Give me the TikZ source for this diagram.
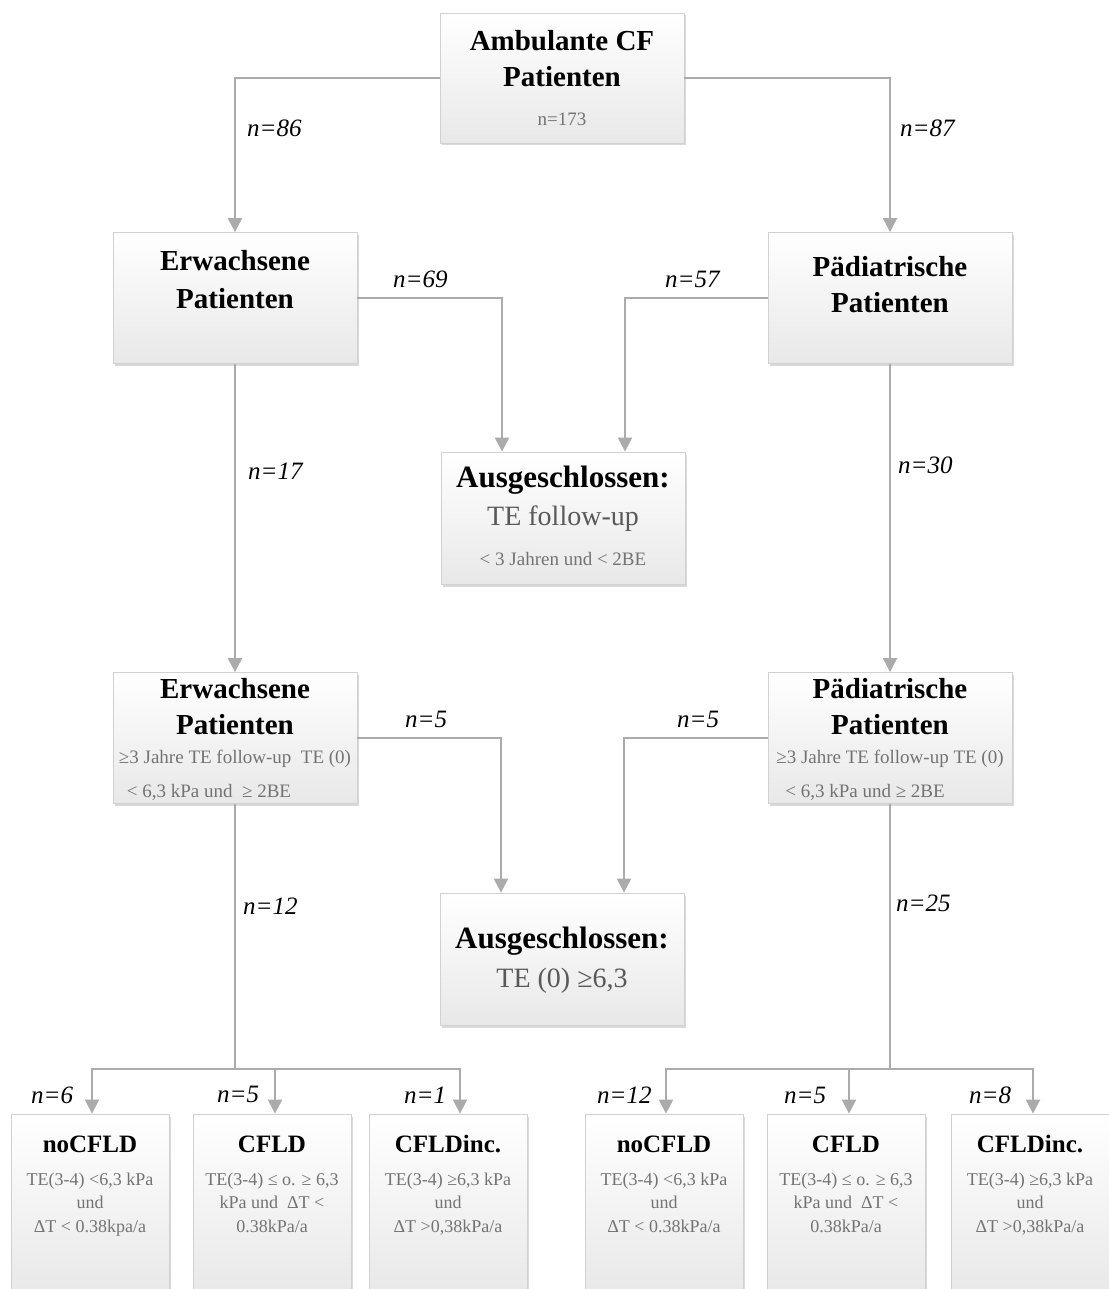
\documentclass[tikz,border=0pt]{standalone}
\usepackage{fontspec}
\setmainfont{Liberation Serif}
\usepackage{tikz}
\usetikzlibrary{arrows.meta,shadows}
\newcommand{\plainspaces}{\spaceskip=0pt\xspaceskip=0pt\relax}
\newcommand{\boxtitle}{\fontsize{29}{36}\selectfont\bfseries\plainspaces}
\newcommand{\boxsub}{\fontsize{19}{23}\selectfont\mdseries\color{black!55}\plainspaces}
\newcommand{\boxmid}{\fontsize{28}{34}\selectfont\mdseries\color{black!65}\plainspaces}
\newcommand{\leaftitle}{\fontsize{25}{23.5}\selectfont\bfseries\plainspaces}
\newcommand{\leafsub}{\fontsize{18}{23.5}\selectfont\mdseries\color{black!55}\plainspaces}
\tikzset{
  flowbox/.style={draw=black!18, line width=0.8pt, top color=white, bottom color=black!9,
    drop shadow={shadow xshift=2pt, shadow yshift=-2.5pt, opacity=0.3},
    inner sep=0pt, align=flush center, text width=244pt, font=\boxtitle,
    execute at begin node=\plainspaces},
  leafbox/.style={flowbox, text width=158pt, font=\leaftitle,
    text height=38pt, text depth=142pt},
  flowline/.style={draw=black!33, line width=2.2pt},
  flowarrow/.style={flowline, -{Triangle[width=14pt,length=14pt]}},
  nlabel/.style={font=\fontsize{25}{28}\selectfont\itshape, anchor=base west, inner sep=0pt},
}

\begin{document}
\begin{tikzpicture}[x=1pt, y=-1pt]
  \useasboundingbox (0,0) rectangle (1108,1289);
  % obere Ebene
  \node[flowbox, text height=38pt, text depth=92pt] (amb) at (562,78)
    {Ambulante CF\\Patienten\\[3pt]{\boxsub n=173}};
  \node[flowbox, text height=38pt, text depth=93pt] (erw1) at (235,298)
    {Erwachsene\\[2pt]Patienten};
  \node[flowbox, text height=44pt, text depth=87pt] (paed1) at (890,298)
    {Pädiatrische\\Patienten};
  \node[flowbox, font=\fontsize{31}{34}\selectfont\bfseries, text height=35pt, text depth=97pt] (aus1) at (563,518)
    {Ausgeschlossen:\\[4pt]{\boxmid TE follow-up}\\[6pt]{\boxsub < 3 Jahren und < 2BE}};
  % mittlere Ebene
  \node[flowbox, text height=26pt, text depth=105pt] (erw2) at (235,738)
    {Erwachsene\\Patienten\\[-7pt]{\boxsub ≥3 Jahre TE follow-up\ \ TE (0)}\\[-2pt]{\boxsub < 6,3 kPa und\ \ ≥ 2BE\hspace*{52pt}}};
  \node[flowbox, text height=26pt, text depth=105pt] (paed2) at (890,738)
    {Pädiatrische\\Patienten\\[-7pt]{\boxsub ≥3 Jahre TE follow-up TE (0)}\\[-2pt]{\boxsub < 6,3 kPa und ≥ 2BE\hspace*{50pt}}};
  \node[flowbox, font=\fontsize{31}{39}\selectfont\bfseries, text height=55pt, text depth=77pt] (aus2) at (562,959)
    {Ausgeschlossen:\\{\boxmid TE (0) ≥6,3}};
  % Endgruppen
  \node[leafbox] (nocfldL) at (90,1204)
    {noCFLD\\[9.5pt]{\leafsub TE(3-4) <6,3 kPa\\und\\ΔT < 0.38kpa/a}};
  \node[leafbox] (cfldL) at (272,1204)
    {CFLD\\[9.5pt]{\leafsub TE(3-4) ≤ o. ≥ 6,3\\kPa und\ \ ΔT <\\0.38kPa/a}};
  \node[leafbox] (incL) at (448,1204)
    {CFLDinc.\\[9.5pt]{\leafsub TE(3-4) ≥6,3 kPa\\und\\ΔT >0,38kPa/a}};
  \node[leafbox] (nocfldR) at (664,1204)
    {noCFLD\\[9.5pt]{\leafsub TE(3-4) <6,3 kPa\\und\\ΔT < 0.38kPa/a}};
  \node[leafbox] (cfldR) at (846,1204)
    {CFLD\\[9.5pt]{\leafsub TE(3-4) ≤ o. ≥ 6,3\\kPa und\ \ ΔT <\\0.38kPa/a}};
  \node[leafbox] (incR) at (1030,1204)
    {CFLDinc.\\[9.5pt]{\leafsub TE(3-4) ≥6,3 kPa\\und\\ΔT >0,38kPa/a}};
  % Verbindungen
  \draw[flowarrow] (amb.west) -| (erw1.north);
  \draw[flowarrow] (amb.east) -| (paed1.north);
  \draw[flowarrow] (erw1.east) -| ([xshift=-61pt]aus1.north);
  \draw[flowarrow] (paed1.west) -| ([xshift=62pt]aus1.north);
  \draw[flowarrow] (erw1.south) -- (erw2.north);
  \draw[flowarrow] (paed1.south) -- (paed2.north);
  \draw[flowarrow] (erw2.east) -| ([xshift=-61pt]aus2.north);
  \draw[flowarrow] (paed2.west) -| ([xshift=62pt]aus2.north);
  \coordinate (splitL) at (235,1069);
  \coordinate (splitR) at (890,1069);
  \draw[flowline] (erw2.south) -- (splitL);
  \draw[flowline] (paed2.south) -- (splitR);
  \draw[flowarrow] (splitL) -| ([xshift=2pt]nocfldL.north);
  \draw[flowarrow] (splitL) -| ([xshift=3pt]cfldL.north);
  \draw[flowarrow] (splitL) -| ([xshift=12pt]incL.north);
  \draw[flowarrow] (splitR) -| ([xshift=2pt]nocfldR.north);
  \draw[flowarrow] (splitR) -| ([xshift=3pt]cfldR.north);
  \draw[flowarrow] (splitR) -| ([xshift=3pt]incR.north);
  % Fallzahlen
  \node[nlabel] (n86) at (247,137) {n=86};
  \node[nlabel] (n87) at (900,137) {n=87};
  \node[nlabel] (n69) at (393,287) {n=69};
  \node[nlabel] (n57) at (665,287) {n=57};
  \node[nlabel] (n17) at (248,479) {n=17};
  \node[nlabel] (n30) at (898,473) {n=30};
  \node[nlabel] (n5a) at (405,727) {n=5};
  \node[nlabel] (n5b) at (677,727) {n=5};
  \node[nlabel] (n12a) at (243,914) {n=12};
  \node[nlabel] (n25) at (896,911) {n=25};
  \node[nlabel] (n6) at (31,1103) {n=6};
  \node[nlabel] (n5c) at (217,1102) {n=5};
  \node[nlabel] (n1) at (404,1103) {n=1};
  \node[nlabel] (n12b) at (597,1103) {n=12};
  \node[nlabel] (n5d) at (784,1103) {n=5};
  \node[nlabel] (n8) at (969,1103) {n=8};
\end{tikzpicture}
\end{document}
